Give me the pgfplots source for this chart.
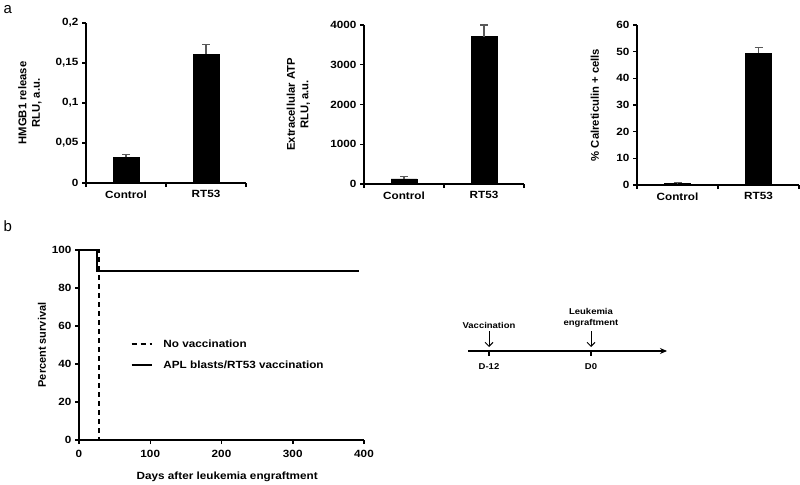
\documentclass[border=0pt]{standalone}
\usepackage{fontspec}
\setmainfont{Liberation Sans}
\newfontfamily\wide[FakeStretch=1.12]{Liberation Sans}
\usepackage{pgfplots}
\pgfplotsset{compat=1.18}
\usetikzlibrary{arrows.meta}
\newcommand\tfont{\wide\fontsize{10.5}{13.5}\bfseries\selectfont}
\newcommand\lfont{\fontsize{11.3}{13.5}\bfseries\selectfont}
\newcommand\xlfont{\wide\fontsize{10.5}{13}\bfseries\selectfont}
\newcommand\sfont{\wide\fontsize{8.5}{10.5}\bfseries\selectfont}
\pgfplotsset{
  barpanel/.style={
    scale only axis, anchor=south west,
    axis lines=left, axis line style={-, line width=1.1bp},
    tick align=outside, major tick length=4bp,
    tick style={line width=1.1bp, black},
    xmin=-0.5, xmax=1.5, ymin=0,
    enlargelimits=false, clip=false,
    xtick={-0.5,0.5,1.5}, xticklabels={},
    extra x ticks={0,1}, extra x tick labels={Control,RT53},
    extra x tick style={major tick length=0pt, tick style={draw=none},
      xticklabel style={yshift=-4bp}},
    tick label style={font=\tfont},
    label style={font=\lfont, align=center},
    /pgf/number format/assume math mode=true,
  },
  barplot/.style={ybar, bar width=26bp, fill=black, draw=black,
    error bars/.cd, y dir=plus, y explicit,
    error bar style={gray!70!black, line width=1.1bp},
    error mark options={rotate=90, mark size=4bp, gray!70!black, line width=1.1bp}},
}
\begin{document}
\begin{tikzpicture}[x=1bp,y=1bp]
\path[use as bounding box] (0,0) rectangle (800,-485);
\node[anchor=west, font=\fontsize{15}{17}\selectfont] at (0,-10) {a};
\node[anchor=west, font=\fontsize{15}{17}\selectfont] at (0,-226) {b};

% Panel a1
\begin{axis}[barpanel, at={(86bp,-183bp)}, width=160bp, height=160bp,
  ymax=0.2, ytick={0,0.05,0.1,0.15,0.2},
  yticklabels={0,{0,05},{0,1},{0,15},{0,2}},
  ylabel={HMGB1 release\\RLU, a.u.},
  ylabel style={at={(axis description cs:-0.35,0.5)}, anchor=center}]
\addplot[barplot] coordinates {(0,0.032) +- (0,0.004) (1,0.161) +- (0,0.012)};
\end{axis}

% Panel a2
\begin{axis}[barpanel, at={(364bp,-184bp)}, width=160bp, height=159bp,
  ymax=4000, ytick={0,1000,2000,3000,4000},
  yticklabels={0,1000,2000,3000,4000},
  ylabel={Extracellular ATP\\RLU, a.u.},
  ylabel style={at={(axis description cs:-0.41,0.5)}, anchor=center}]
\addplot[barplot] coordinates {(0,130) +- (0,50) (1,3710) +- (0,290)};
\end{axis}

% Panel a3
\begin{axis}[barpanel, at={(637bp,-185bp)}, width=162bp, height=160bp,
  ymax=60, ytick={0,10,20,30,40,50,60},
  yticklabels={0,10,20,30,40,50,60},
  ylabel={\% Calreticulin + cells},
  ylabel style={at={(axis description cs:-0.26,0.5)}, anchor=center}]
\addplot[barplot] coordinates {(0,0.6) +- (0,0.3) (1,49.5) +- (0,2.1)};
\end{axis}

% Panel b
\begin{axis}[scale only axis, anchor=south west, at={(79bp,-440bp)},
  width=285bp, height=190bp,
  xmin=0, xmax=400, ymin=0, ymax=100,
  xtick={0,100,200,300,400}, ytick={0,20,40,60,80,100},
  axis lines=left, axis line style={-, line width=1.5bp},
  tick align=outside, major tick length=4bp,
  tick style={line width=1.5bp, black},
  tick label style={font=\tfont},
  xticklabel style={yshift=-3bp},
  ylabel style={font=\fontsize{11}{13}\bfseries\selectfont},
  xlabel style={font=\xlfont},
  /pgf/number format/assume math mode=true,
  xlabel={Days after leukemia engraftment},
  ylabel={Percent survival},
  xlabel style={at={(axis description cs:0.52,-0.195)}, anchor=center},
  ylabel style={at={(axis description cs:-0.13,0.5)}, anchor=center},
  clip=false,
  legend style={at={(0.17,0.55)}, anchor=north west, draw=none, fill=none,
    font=\xlfont, row sep=8bp},
  legend cell align=left,
  legend image code/.code={\draw[#1] (0bp,0bp) -- (20bp,0bp);}]
\addplot[black, line width=1.8bp, dash pattern=on 5bp off 4bp, const plot]
  coordinates {(0,100) (28,0)};
\addlegendentry{\hspace{9bp}No vaccination}
\addplot[black, line width=1.8bp, const plot]
  coordinates {(0,100) (25,88.9) (393,88.9)};
\addlegendentry{\hspace{9bp}APL blasts/RT53 vaccination}
\end{axis}

% Timeline schematic
\draw[line width=1.1bp, -{Stealth[length=7bp,width=6bp]}] (468,-351) -- (667,-351);
\draw[line width=1.1bp] (489,-351) -- (489,-356);
\draw[line width=1.1bp] (591,-351) -- (591,-356);
\draw[line width=1bp, -{Straight Barb[length=4bp,width=8bp]}] (489,-331) -- (489,-347);
\draw[line width=1bp, -{Straight Barb[length=4bp,width=8bp]}] (591,-331) -- (591,-347);
\node[font=\sfont] at (489,-325) {Vaccination};
\node[font=\sfont, align=center] at (591,-318) {Leukemia\\engraftment};
\node[font=\sfont] at (489,-367) {D-12};
\node[font=\sfont] at (591,-367) {D0};
\end{tikzpicture}
\end{document}
